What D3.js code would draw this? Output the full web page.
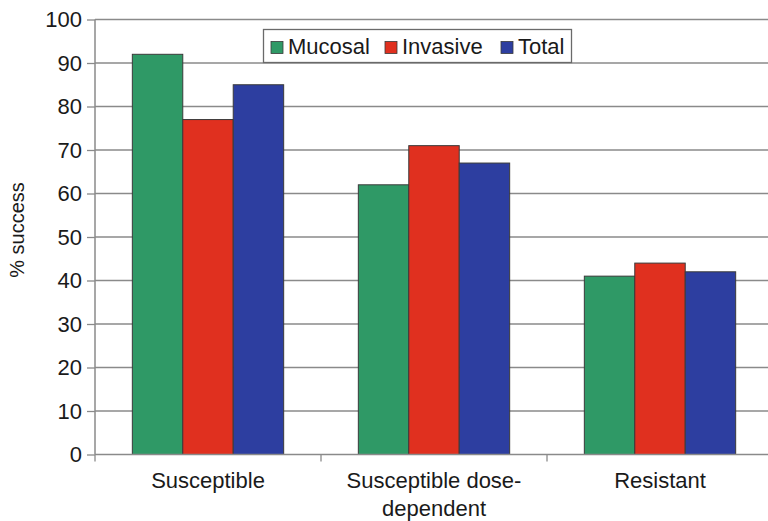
<!DOCTYPE html>
<html><head><meta charset="utf-8">
<script src="https://cdn.jsdelivr.net/npm/d3@7"></script>
<style>body{margin:0;background:#fff}svg{display:block}text{font-family:"Liberation Sans",Arial,sans-serif;fill:#1a1a1a}</style>
</head><body>
<svg id="c" width="768" height="521"></svg>
<script>
const categories = [["Susceptible"], ["Susceptible dose-", "dependent"], ["Resistant"]];
const series = ["Mucosal", "Invasive", "Total"];
const mucosal = [92, 62, 41];
const invasive = [77, 71, 44];
const total = [85, 67, 42];
const yTicks = [0,10,20,30,40,50,60,70,80,90,100];
const colors = ["#2f9966", "#e0301f", "#2d3ea0"];

(function(){
const values = [mucosal, invasive, total];
const svg = d3.select("#c");
const W = 768, pL = 95, pR = 773, pT = 19.5, pB = 454.5;
const y = d3.scaleLinear().domain([0,100]).range([pB, pT]);
const x0 = d3.scaleBand().domain(d3.range(categories.length)).range([pL, pR]).paddingInner(0).paddingOuter(0);
const x1 = d3.scaleBand().domain(series).range([0, x0.bandwidth()]).paddingOuter(0.74).paddingInner(0);

// gridlines
svg.append("g").selectAll("line").data(yTicks.filter(d=>d>0)).join("line")
  .attr("x1", pL).attr("x2", W).attr("y1", d=>y(d)).attr("y2", d=>y(d))
  .attr("stroke", "#8a8a8a").attr("stroke-width", 1.3);

// y axis
const ya = svg.append("g").attr("transform", `translate(${pL},0)`)
  .call(d3.axisLeft(y).tickValues(yTicks).tickSize(8).tickPadding(5));
ya.select(".domain").attr("stroke", "#8a8a8a").attr("stroke-width", 1.5).attr("d", `M0,${pT}V${pB}`);
ya.selectAll(".tick line").attr("stroke", "#8a8a8a").attr("stroke-width", 1.3);
ya.selectAll(".tick text").attr("font-size", 22).attr("fill", "#1a1a1a").attr("font-family", '"Liberation Sans",Arial,sans-serif');

// bars
const g = svg.append("g");
categories.forEach((c, i) => {
  series.forEach((s, j) => {
    g.append("rect")
      .attr("x", x0(i) + x1(s)).attr("width", x1.bandwidth())
      .attr("y", y(values[j][i])).attr("height", y(0) - y(values[j][i]))
      .attr("fill", colors[j]).attr("stroke", "#3a3a3a").attr("stroke-width", 1);
  });
});

// x axis
svg.append("line").attr("x1", pL).attr("x2", W).attr("y1", pB).attr("y2", pB)
  .attr("stroke", "#8a8a8a").attr("stroke-width", 1.5);
const xt = d3.range(categories.length + 1).map(i => pL + i * x0.bandwidth()).filter(v => v <= W);
svg.append("g").selectAll("line").data(xt).join("line")
  .attr("x1", d=>d).attr("x2", d=>d).attr("y1", pB).attr("y2", pB + 7)
  .attr("stroke", "#8a8a8a").attr("stroke-width", 1.3);

const xl = svg.append("g");
categories.forEach((c, i) => {
  const t = xl.append("text").attr("x", x0(i) + x0.bandwidth()/2).attr("y", 488)
    .attr("text-anchor", "middle").attr("font-size", 22);
  c.forEach((line, k) => t.append("tspan").attr("x", x0(i) + x0.bandwidth()/2).attr("dy", k ? 28 : 0).text(line));
});

// y label
svg.append("text").attr("transform", "translate(24,230) rotate(-90)").attr("text-anchor", "middle")
  .attr("font-size", 20).text("% success");

// legend
const lg = svg.append("g");
lg.append("rect").attr("x", 263.5).attr("y", 29.5).attr("width", 308).attr("height", 33)
  .attr("fill", "#fff").attr("stroke", "#6a6a6a").attr("stroke-width", 1.3);
const lx = [271, 385, 501];
series.forEach((s, j) => {
  lg.append("rect").attr("x", lx[j]).attr("y", 41.5).attr("width", 12).attr("height", 12)
    .attr("fill", colors[j]).attr("stroke", "#3a3a3a").attr("stroke-width", 0.8);
  lg.append("text").attr("x", lx[j] + 17).attr("y", 54).attr("font-size", 22).text(s);
});
})();
</script>
</body></html>
